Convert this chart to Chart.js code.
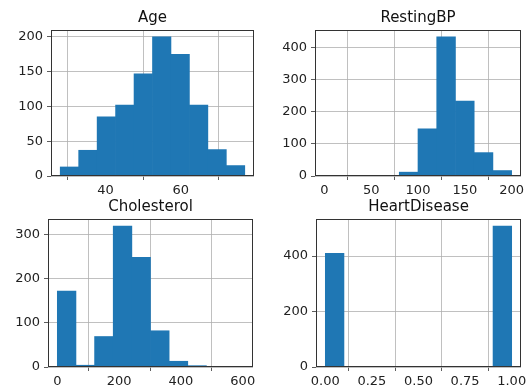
<!DOCTYPE html>
<html>
<head>
<meta charset="utf-8">
<script src="https://cdn.jsdelivr.net/npm/chart.js@4.4.1/dist/chart.umd.min.js"></script>
<style>
  html, body { margin: 0; padding: 0; background: #fff; }
  #wrap { position: relative; width: 526px; height: 387px; overflow: hidden; background: #fff; }
  canvas { position: absolute; }
</style>
</head>
<body>
<div id="wrap"></div>
<script>
// ---- data ----
const ageTitle = 'Age';
const ageEdges = [28, 32.9, 37.8, 42.7, 47.6, 52.5, 57.4, 62.3, 67.2, 72.1, 77];
const ageCounts = [13, 37, 85, 102, 147, 200, 175, 102, 38, 15];
const ageXTicks = [40, 60];
const ageYTicks = [0, 50, 100, 150, 200];

const bpTitle = 'RestingBP';
const bpEdges = [0, 20, 40, 60, 80, 100, 120, 140, 160, 180, 200];
const bpCounts = [1, 0, 0, 0, 12, 147, 434, 234, 73, 17];
const bpXTicks = [0, 50, 100, 150, 200];
const bpYTicks = [0, 100, 200, 300, 400];

const cholTitle = 'Cholesterol';
const cholEdges = [0, 60.3, 120.6, 180.9, 241.2, 301.5, 361.8, 422.1, 482.4, 542.7, 603];
const cholCounts = [172, 4, 69, 319, 248, 82, 13, 3, 1, 1];
const cholXTicks = [0, 200, 400, 600];
const cholYTicks = [0, 100, 200, 300];

const hdTitle = 'HeartDisease';
const hdEdges = [0, 0.1, 0.2, 0.3, 0.4, 0.5, 0.6, 0.7, 0.8, 0.9, 1.0];
const hdCounts = [410, 0, 0, 0, 0, 0, 0, 0, 0, 508];
const hdXTicks = [0, 0.25, 0.5, 0.75, 1.0];
const hdYTicks = [0, 200, 400];

// ---- layout / style ----
const LM = 50, TM = 30, BM = 26, RM = 5;
const BAR = '#1f77b4';
const FONT = 'DejaVu Sans';

const framePlugin = {
  id: 'frame',
  afterDraw(chart) {
    const { ctx, chartArea: a } = chart;
    ctx.save();
    ctx.strokeStyle = '#333';
    ctx.lineWidth = 1;
    ctx.strokeRect(Math.round(a.left) + 0.5, Math.round(a.top) + 0.5,
                   Math.round(a.right - a.left) - 1, Math.round(a.bottom - a.top) - 1);
    ctx.restore();
  }
};

function makeHist(box, title, edges, counts, xTicks, yTicks, xFmt) {
  const c = document.createElement('canvas');
  const w = (box.r - box.l) + LM + RM;
  const h = (box.b - box.t) + TM + BM;
  c.width = w; c.height = h;
  c.style.left = (box.l - LM) + 'px';
  c.style.top = (box.t - TM) + 'px';
  c.style.width = w + 'px';
  c.style.height = h + 'px';
  document.getElementById('wrap').appendChild(c);

  const span = edges[edges.length - 1] - edges[0];
  const xmin = edges[0] - 0.05 * span;
  const xmax = edges[edges.length - 1] + 0.05 * span;
  const ymax = Math.max(...counts) * 1.05;
  // empty bins are kept as positions but not drawn
  const data = counts.map((v, i) => ({ x: (edges[i] + edges[i + 1]) / 2, y: v === 0 ? null : v }));

  new Chart(c, {
    type: 'bar',
    data: {
      datasets: [{
        data: data,
        backgroundColor: BAR,
        borderWidth: 0,
        barPercentage: 1,
        categoryPercentage: 1
      }]
    },
    options: {
      responsive: false,
      animation: false,
      devicePixelRatio: 1,
      layout: { padding: { left: 0, right: RM, top: 0, bottom: 0 } },
      plugins: {
        legend: { display: false },
        tooltip: { enabled: false },
        title: {
          display: true, text: title, fullSize: false,
          color: '#111',
          font: { family: FONT, size: 15, weight: 'normal', lineHeight: 1.2 },
          padding: { top: 9, bottom: 3 }
        }
      },
      scales: {
        x: {
          type: 'linear', min: xmin, max: xmax, offset: false, z: 1,
          afterBuildTicks: s => { s.ticks = xTicks.map(v => ({ value: v })); },
          afterFit: s => { s.height = BM; s.paddingLeft = 0; s.paddingRight = 0; },
          grid: { color: '#b0b0b0', lineWidth: 0.8, tickColor: '#333', tickLength: 4, drawOnChartArea: true },
          border: { display: false },
          ticks: {
            autoSkip: false, maxRotation: 0, padding: 3, color: '#222',
            font: { family: FONT, size: 13 },
            callback: v => xFmt(v)
          }
        },
        y: {
          type: 'linear', min: 0, max: ymax, z: 1,
          afterBuildTicks: s => { s.ticks = yTicks.map(v => ({ value: v })); },
          afterFit: s => { s.width = LM; s.paddingTop = 0; s.paddingBottom = 0; },
          grid: { color: '#b0b0b0', lineWidth: 0.8, tickColor: '#333', tickLength: 4, drawOnChartArea: true },
          border: { display: false },
          ticks: {
            autoSkip: false, padding: 4, color: '#222',
            font: { family: FONT, size: 13 },
            callback: v => String(v)
          }
        }
      }
    },
    plugins: [framePlugin]
  });
}

makeHist({ l: 51, t: 30, r: 254, b: 176 }, ageTitle, ageEdges, ageCounts, ageXTicks, ageYTicks, v => String(v));
makeHist({ l: 315, t: 30, r: 521, b: 176 }, bpTitle, bpEdges, bpCounts, bpXTicks, bpYTicks, v => String(v));
makeHist({ l: 48, t: 219, r: 253, b: 367 }, cholTitle, cholEdges, cholCounts, cholXTicks, cholYTicks, v => String(v));
makeHist({ l: 316, t: 219, r: 521, b: 367 }, hdTitle, hdEdges, hdCounts, hdXTicks, hdYTicks, v => v.toFixed(2));
</script>
</body>
</html>
